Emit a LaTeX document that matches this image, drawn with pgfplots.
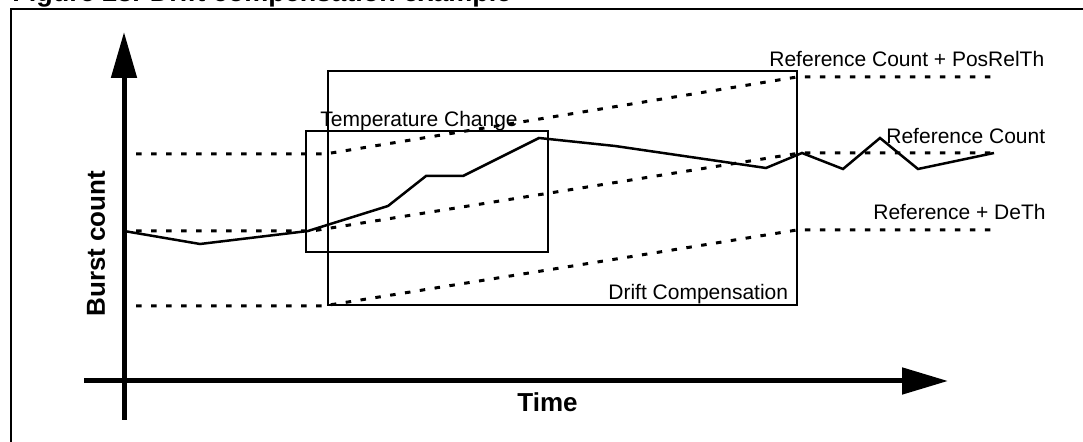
\documentclass[border=0pt]{standalone}
\usepackage{pgfplots}
\pgfplotsset{compat=1.18}
\usetikzlibrary{arrows.meta}
\usepackage{fontspec}
\setmainfont{Liberation Sans}

\begin{document}
\begin{tikzpicture}
\begin{axis}[
  width=541.5pt, height=221pt, scale only axis,
  xmin=0, xmax=1083, ymin=0, ymax=442, y dir=reverse,
  axis lines=none, clip=false, no marks,
]
% outer frame
\addplot[black, line width=1pt] coordinates {(11,442) (11,9.5) (1083,9.5)};
% threshold lines (dashed)
\addplot[black, line width=1.5pt, dash pattern=on 2.75pt off 4.75pt]
  coordinates {(136,154) (325,154) (797,77) (995,77)};
\addplot[black, line width=1.5pt, dash pattern=on 2.75pt off 4.75pt]
  coordinates {(136,231) (312,231) (800,153) (995,153)};
\addplot[black, line width=1.5pt, dash pattern=on 2.75pt off 4.75pt]
  coordinates {(136,306) (323,306) (797,230) (995,230)};
% boxes
\addplot[black, line width=1pt, line cap=rect]
  coordinates {(306,131) (548,131) (548,252) (306,252) (306,131)};
\addplot[black, line width=1pt, line cap=rect]
  coordinates {(328,71) (797,71) (797,305) (328,305) (328,71)};
% burst count signal
\addplot[black, line width=1.25pt]
  coordinates {(124,231) (200,244) (308,231) (388,206) (426,176) (463,176)
               (539,138) (615,146) (766,168) (802,153) (843,169) (880,138)
               (918,169) (994,153)};
% axes
\addplot[black, line width=2.5pt, -{Triangle[length=23pt,width=12.5pt]}]
  coordinates {(124,420) (124,32)};
\addplot[black, line width=2.5pt, -{Triangle[length=23pt,width=13pt]}]
  coordinates {(84,381) (948,381)};
% texts
\node[anchor=base west, inner sep=0, font=\fontsize{10.5pt}{12pt}\selectfont]
  at (axis cs:320,127) {Temperature Change};
\node[anchor=base west, inner sep=0, font=\fontsize{10.5pt}{12pt}\selectfont]
  at (axis cs:769,67) {Reference Count + PosRelTh};
\node[anchor=base west, inner sep=0, font=\fontsize{10.5pt}{12pt}\selectfont]
  at (axis cs:886,144) {Reference Count};
\node[anchor=base west, inner sep=0, font=\fontsize{10.5pt}{12pt}\selectfont]
  at (axis cs:873,220) {Reference + DeTh};
\node[anchor=base west, inner sep=0, font=\fontsize{10.5pt}{12pt}\selectfont]
  at (axis cs:608,300) {Drift Compensation};
\node[anchor=base west, inner sep=0, font=\fontsize{13pt}{15pt}\selectfont\bfseries]
  at (axis cs:517,412) {Time};
\node[anchor=base west, inner sep=0, rotate=90, font=\fontsize{13pt}{15pt}\selectfont\bfseries]
  at (axis cs:105,317) {Burst count};
\node[anchor=base west, inner sep=0, font=\fontsize{13.5pt}{16pt}\selectfont\bfseries]
  at (axis cs:12,1.5) {Figure 23. Drift compensation example};
\coordinate (SW) at (axis cs:0,442);
\coordinate (NE) at (axis cs:1083,0);
\end{axis}
\pgfresetboundingbox
\path (SW) rectangle (NE);
\end{tikzpicture}
\end{document}
